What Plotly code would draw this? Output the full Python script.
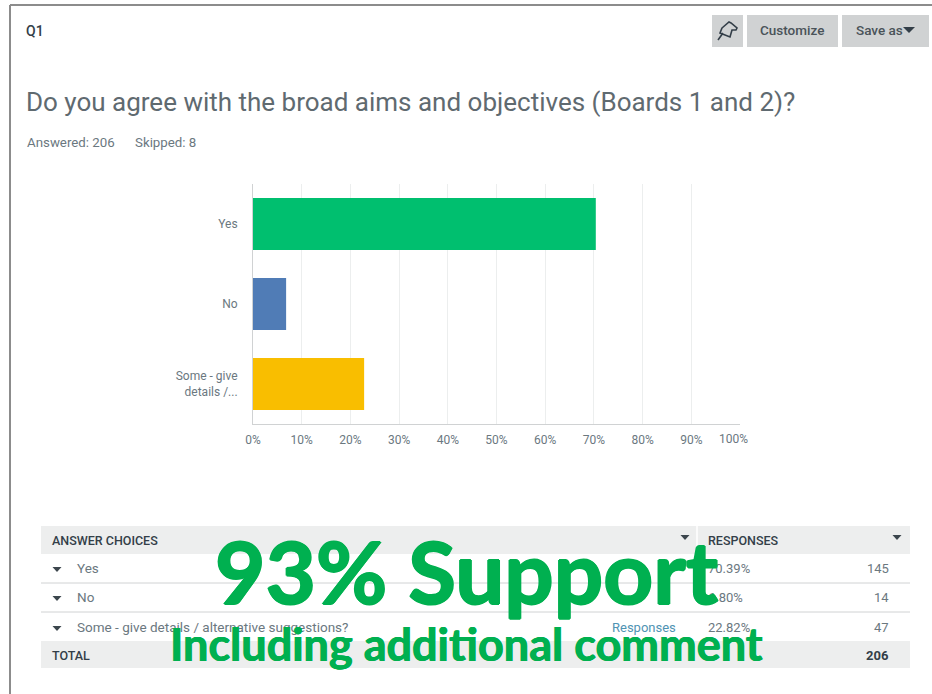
import plotly.graph_objects as go

W, H = 932, 694
categories = ["Yes", "No", "Some - give<br>details /..."]
percentages = [70.39, 6.80, 22.82]
bar_colors = ["#00bf6f", "#507cb6", "#f9be00"]
x_ticks = [0, 10, 20, 30, 40, 50, 60, 70, 80, 90, 100]
x_tick_labels = ["0%", "10%", "20%", "30%", "40%", "50%", "60%", "70%", "80%", "90%", ""]
table_choices = ["Yes", "No", "Some - give details / alternative suggestions?"]
table_percent = ["70.39%", "6.80%", "22.82%"]
table_counts = ["145", "14", "47"]
table_total = "206"

FONT = "Roboto, sans-serif"
GREY = "#6b787f"
DARK = "#333e48"
GREEN = "#00b050"
THICK = f"1px 0 0 {GREEN}, -1px 0 0 {GREEN}, 0 1px 0 {GREEN}, 0 -1px 0 {GREEN}"


def px(x):
    return x / W


def py(y):
    return 1 - y / H


def rect(x0, y0, x1, y1, color):
    return dict(type="rect", xref="paper", yref="paper", x0=px(x0), x1=px(x1), y0=py(y0), y1=py(y1),
                fillcolor=color, line_width=0, layer="below")


def line(x0, y0, x1, y1, color, width=1):
    return dict(type="line", xref="paper", yref="paper", x0=px(x0), x1=px(x1), y0=py(y0), y1=py(y1),
                line=dict(color=color, width=width), layer="below")


def text(x, y, s, size=12, color=GREY, anchor="left", family=FONT, weight=None, shadow=None):
    font = dict(size=size, color=color, family=family, weight=weight)
    if shadow:
        font["shadow"] = shadow
    return dict(xref="paper", yref="paper", x=px(x), y=py(y), text=s, showarrow=False, xanchor=anchor,
                yanchor="middle", font=font, borderpad=0, borderwidth=0)


def caret(cx, cy, color="#3c464d", half=4.5):
    p = f"M {px(cx-half)} {py(cy-2)} L {px(cx+half)} {py(cy-2)} L {px(cx)} {py(cy+half*0.65)} Z"
    return dict(type="path", xref="paper", yref="paper", path=p, fillcolor=color, line_width=0, layer="below")


fig = go.Figure(go.Bar(y=categories, x=percentages, orientation="h", width=0.65,
                       marker=dict(color=bar_colors, line_width=0), hoverinfo="skip"))

shapes = [
    line(10, 5, 932, 5, "#8c8c8c", 2),
    line(10, 5, 10, 694, "#8c8c8c", 2),
    rect(712, 15, 743, 47, "#d0d2d3"),
    rect(747, 15, 838, 47, "#d0d2d3"),
    rect(842, 15, 929, 47, "#d0d2d3"),
    caret(909, 29, "#333e48", 6),
    rect(41, 526, 910, 554, "#edeeee"),
    line(697, 526, 697, 554, "#ffffff", 1.5),
    rect(41, 641, 910, 668, "#edeeee"),
    line(41, 583, 910, 583, "#d0d2d3", 1),
    line(41, 612, 910, 612, "#d0d2d3", 1),
    caret(685, 537),
    caret(897, 537),
]
# push-pin glyph
pin = (f"M {px(722)} {py(28)} L {px(729)} {py(22)} L {px(731)} {py(23)} L {px(737)} {py(28)} L {px(736)} {py(30)} "
       f"L {px(732)} {py(30)} L {px(730)} {py(37)} L {px(720)} {py(33)} Z M {px(723)} {py(33)} L {px(718)} {py(40)}")
shapes.append(dict(type="path", xref="paper", yref="paper", path=pin, fillcolor="rgba(0,0,0,0)",
                   line=dict(color="#333e48", width=1.6), layer="above"))

row_y = [568, 597, 627]
annotations = [
    text(26, 31, "Q1", 14, DARK, weight=500),
    text(792, 30, "Customize", 13.5, "#4a5359", "center", weight=500),
    text(856, 30, "Save as", 13.5, "#4a5359", weight=500),
    text(26, 102, "Do you agree with the broad aims and objectives (Boards 1 and 2)?", 26, "#5f6a70"),
    text(27, 142, "Answered: 206", 13.3),
    text(135, 142, "Skipped: 8", 13.3),
    text(733, 439, "100%", 12, GREY, "center"),
    text(52, 540, "ANSWER CHOICES", 12.5, DARK, weight=500),
    text(708, 540, "RESPONSES", 12.5, DARK, weight=500),
    text(52, 655, "TOTAL", 12.5, DARK, weight=500),
    text(889, 655, table_total, 13, DARK, "right", weight=700),
    text(676, 627, "Responses", 13, "#4f93b3", "right"),
]
for y, name, pct, cnt in zip(row_y, table_choices, table_percent, table_counts):
    shapes.append(caret(57, y + 1))
    annotations.append(text(77, y, name, 13.5))
    annotations.append(text(708, y, pct, 13))
    annotations.append(text(889, y, cnt, 13, GREY, "right"))

annotations += [
    text(467, 570, "93% Support", 87, GREEN, "center", "Lato, sans-serif", 700, THICK),
    text(466, 644, "Including additional comment", 45, GREEN, "center", "Lato, sans-serif", 700,
         f"0.5px 0 0 {GREEN}, -0.5px 0 0 {GREEN}"),
]

fig.update_layout(
    width=W, height=H, autosize=False, showlegend=False, plot_bgcolor="white", paper_bgcolor="white",
    margin=dict(l=0, r=0, t=0, b=0, autoexpand=False), font=dict(family=FONT, size=12, color=GREY),
    shapes=shapes, annotations=annotations,
    xaxis=dict(domain=[px(253), px(740)], range=[0, 100], tickmode="array", tickvals=x_ticks,
               ticktext=x_tick_labels, showgrid=True, gridcolor="#eceeee", gridwidth=1, ticks="",
               showline=True, linecolor="#d0d2d3", linewidth=1, zeroline=False, ticklabelstandoff=5,
               tickfont=dict(size=12, color=GREY), fixedrange=True),
    yaxis=dict(domain=[py(424), py(184)], range=[2.5, -0.5], type="category", ticks="", showgrid=False,
               showline=True, linecolor="#d0d2d3", linewidth=1, zeroline=False, ticklabelstandoff=12,
               tickfont=dict(size=12, color=GREY), fixedrange=True),
)

fig.write_html("out.html", config=dict(displayModeBar=False),
               post_script="document.body.style.margin='0';document.body.style.overflow='hidden';")
